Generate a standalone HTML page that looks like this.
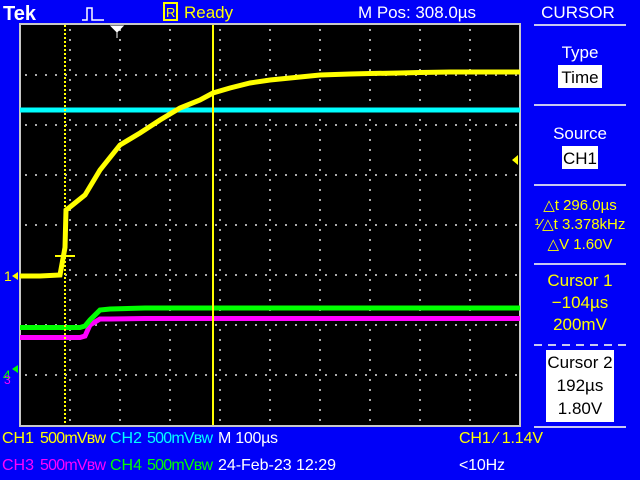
<!DOCTYPE html>
<html><head><meta charset="utf-8"><style>
body{margin:0;width:640px;height:480px;background:#0000f8;overflow:hidden;font-family:"Liberation Sans",sans-serif;}
svg{position:absolute;left:0;top:0}
text{font-family:"Liberation Sans",sans-serif;}
</style></head><body>
<svg width="640" height="480">
<rect x="0" y="0" width="640" height="480" fill="#0000f8"/>
<rect x="20" y="24" width="500" height="402" fill="#000" stroke="#c8c8c8" stroke-width="2"/>
<g id="grid"></g>
<g id="traces"></g>
<line x1="65" y1="25" x2="65" y2="425" stroke="#ffff00" stroke-width="2" stroke-dasharray="2,2"/>
<line x1="213" y1="25" x2="213" y2="425" stroke="#ffff00" stroke-width="2"/>
<line x1="55" y1="256" x2="75" y2="256" stroke="#ffff00" stroke-width="2"/>
<text x="3" y="20" fill="#fff" font-size="20" font-weight="bold" font-family="Liberation Serif">Tek</text>
<path d="M82 20 h5 v-12 h5 v12 h12" stroke="#fff" stroke-width="1.5" fill="none"/>
<rect x="164" y="3" width="13" height="17" fill="none" stroke="#ffff00" stroke-width="2"/>
<text x="166" y="17" fill="#ffff00" font-size="13">R</text>
<text x="184" y="18" fill="#ffff00" font-size="17">Ready</text>
<text x="358" y="18" fill="#fff" font-size="17" textLength="118">M Pos: 308.0µs</text>
<text x="578" y="18" fill="#fff" font-size="17" text-anchor="middle">CURSOR</text>
<path d="M111 26 h12 l-6 6z M117 32 v6" stroke="#fff" fill="#fff"/>
<path d="M512 160 l6 -5 v10z" fill="#ffff00"/>
<text x="4" y="281" fill="#ffff00" font-size="14">1</text>
<path d="M12 276 l6 -4 v8z" fill="#ffff00"/>
<text x="3" y="380" fill="#00ff00" font-size="14">4</text>
<text x="4" y="384" fill="#ff00ff" font-size="12">3</text>
<path d="M12 369 l6 -4 v8z" fill="#00ff00"/>
<g fill="#fff" font-size="17" text-anchor="middle">
<line x1="534" y1="25" x2="626" y2="25" stroke="#c8c8f0" stroke-width="2"/>
<text x="580" y="58">Type</text>
<rect x="558" y="65" width="44" height="23" fill="#fff"/>
<text x="580" y="83" fill="#000">Time</text>
<line x1="534" y1="105" x2="626" y2="105" stroke="#c8c8f0" stroke-width="2"/>
<text x="580" y="139">Source</text>
<rect x="562" y="146" width="36" height="23" fill="#fff"/>
<text x="580" y="164" fill="#000">CH1</text>
<line x1="534" y1="185" x2="626" y2="185" stroke="#c8c8f0" stroke-width="2"/>
<text x="580" y="210" fill="#ffff00" font-size="15">△t 296.0µs</text>
<text x="580" y="229" fill="#ffff00" font-size="15">¹⁄△t 3.378kHz</text>
<text x="580" y="249" fill="#ffff00" font-size="15">△V 1.60V</text>
<line x1="534" y1="264" x2="626" y2="264" stroke="#c8c8f0" stroke-width="2"/>
<text x="580" y="286" fill="#ffff00">Cursor 1</text>
<text x="580" y="308" fill="#ffff00">−104µs</text>
<text x="580" y="330" fill="#ffff00">200mV</text>
<line x1="534" y1="345" x2="626" y2="345" stroke="#c8c8f0" stroke-width="2" stroke-dasharray="8,6"/>
<rect x="546" y="350" width="68" height="72" fill="#fff"/>
<text x="580" y="368" fill="#000">Cursor 2</text>
<text x="580" y="391" fill="#000">192µs</text>
<text x="580" y="414" fill="#000">1.80V</text>
<line x1="534" y1="427" x2="626" y2="427" stroke="#c8c8f0" stroke-width="2"/>
</g>
<g font-size="16">
<text x="2" y="443" fill="#ffff00" textLength="32">CH1</text><text x="40" y="443" fill="#ffff00" textLength="66">500mVʙᴡ</text>
<text x="110" y="443" fill="#00ffff" textLength="32">CH2</text><text x="147" y="443" fill="#00ffff" textLength="66">500mVʙᴡ</text>
<text x="218" y="443" fill="#fff" textLength="60">M 100µs</text>
<text x="459" y="443" fill="#ffff00" textLength="84">CH1 ⁄ 1.14V</text>
<text x="2" y="470" fill="#ff00ff" textLength="32">CH3</text><text x="40" y="470" fill="#ff00ff" textLength="66">500mVʙᴡ</text>
<text x="110" y="470" fill="#00ff00" textLength="32">CH4</text><text x="147" y="470" fill="#00ff00" textLength="66">500mVʙᴡ</text>
<text x="218" y="470" fill="#fff" textLength="118">24-Feb-23 12:29</text>
<text x="459" y="470" fill="#fff" textLength="46">&lt;10Hz</text>
</g>
</svg>
<script>
const timeDivs=[0,0.4,0.8,0.9,0.92,1.0,1.3,1.6,2.0,2.4,2.8,3.2,3.6,3.86,4.2,4.6,5.0,5.6,6.0,6.6,7.0,7.6,8.0,8.6,9.0,9.6,10];
const ch1Volts=[-0.02,-0.02,0,0.55,1.3,1.36,1.6,2.1,2.6,2.84,3.1,3.34,3.5,3.64,3.74,3.84,3.9,3.96,4.0,4.02,4.03,4.04,4.05,4.06,4.06,4.06,4.06];
const ch2Volts=[3.3,3.3,3.3,3.3,3.3,3.3,3.3,3.3,3.3,3.3,3.3,3.3,3.3,3.3,3.3,3.3,3.3,3.3,3.3,3.3,3.3,3.3,3.3,3.3,3.3,3.3,3.3];
const ch4Time=[0,1.2,1.3,1.4,1.6,1.8,2.5,4,6,8,10];
const ch4Volts=[-1.05,-1.05,-1.02,-0.9,-0.7,-0.68,-0.66,-0.66,-0.66,-0.66,-0.66];
const ch3Volts=[-1.25,-1.25,-1.22,-1.0,-0.88,-0.88,-0.87,-0.87,-0.87,-0.87,-0.87];
const xs=t=>20+t*50, ys=v=>275-v*50;
const NS='http://www.w3.org/2000/svg';
const grid=document.getElementById('grid');
for(let i=1;i<10;i++){for(let y=29;y<424;y+=10){const r=document.createElementNS(NS,'rect');r.setAttribute('x',20+i*50-1);r.setAttribute('y',y);r.setAttribute('width',2);r.setAttribute('height',2);r.setAttribute('fill','#aaa');grid.appendChild(r);}}
for(let j=1;j<8;j++){for(let x=25;x<520;x+=10){const r=document.createElementNS(NS,'rect');r.setAttribute('x',x);r.setAttribute('y',24+j*50);r.setAttribute('width',2);r.setAttribute('height',2);r.setAttribute('fill','#aaa');grid.appendChild(r);}}
const tr=document.getElementById('traces');
function line(t,v,color,name){const p=document.createElementNS(NS,'polyline');
p.setAttribute('points',t.map((a,i)=>xs(a)+','+ys(v[i])).join(' '));
p.setAttribute('fill','none');p.setAttribute('stroke',color);p.setAttribute('stroke-width','5');


tr.appendChild(p);}
line(timeDivs,ch2Volts,'#00ffff','ch2-trace');
line(ch4Time,ch3Volts,'#ff00ff','ch3-trace');
line(ch4Time,ch4Volts,'#00ff00','ch4-trace');
line(timeDivs,ch1Volts,'#ffff00','ch1-trace');
</script>
</body></html>
